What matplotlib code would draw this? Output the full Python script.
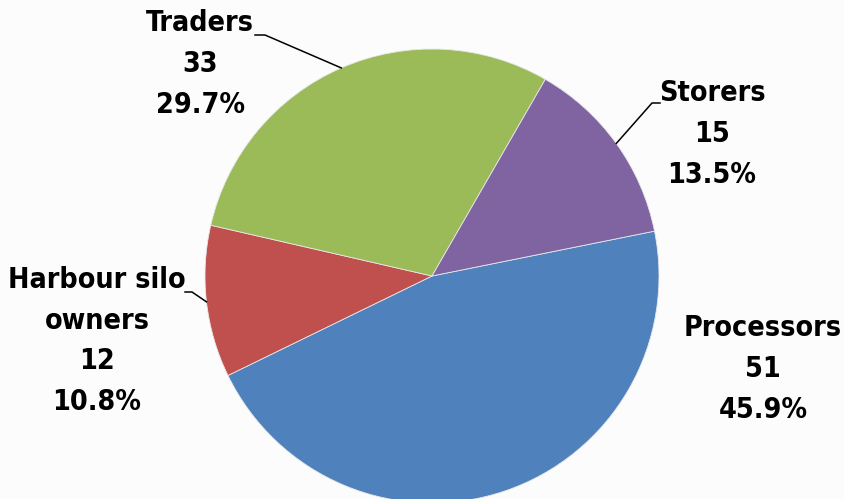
import numpy as np
import matplotlib.pyplot as plt
from matplotlib import font_manager
from matplotlib.font_manager import FontProperties

# processor survey: number of respondents by type
labels = ['Processors', 'Harbour silo\nowners', 'Traders', 'Storers']
counts = [51, 12, 33, 15]
colors = ['#4F81BD', '#C0504D', '#9BBB59', '#8064A2']

total = sum(counts)
pct = [100.0 * c / total for c in counts]

# look for a condensed bold face (chart used Arial Narrow bold)
fpath = None
for key in ['LiberationSansNarrow-Bold.', 'DejaVuSansCondensed-Bold.']:
    for f in font_manager.fontManager.ttflist:
        if key in f.fname.replace('\\', '/').split('/')[-1]:
            fpath = f.fname
            break
    if fpath:
        break

if fpath:
    fp = FontProperties(fname=fpath, size=20.5)
    lsp = 1.57
else:
    fp = FontProperties(family='Liberation Sans', weight='bold', size=21.5)
    lsp = 1.4

W, H = 844, 499
fig = plt.figure(figsize=(W / 100, H / 100), dpi=100, facecolor='#fcfcfc')
ax = fig.add_axes([0, 0, 1, 1])

cx, cy, r = 432, H - 276, 227
wedges, _ = ax.pie(counts, colors=colors, startangle=11.4, counterclock=False,
                   center=(cx, cy), radius=r, frame=True,
                   wedgeprops=dict(edgecolor='#e8e8e8', linewidth=0.6))
ax.set_xlim(0, W)
ax.set_ylim(0, H)
ax.set_aspect('equal')
ax.axis('off')

# label block centres (pixel coords, y from top) and leader line starts
text_pos = {0: (763, 369), 1: (97, 341), 2: (200, 64), 3: (712, 134)}
leader = {1: [(185, 292), (192, 292)], 2: [(255, 35), (265, 35)], 3: [(660, 103), (652, 103)]}

for i, w in enumerate(wedges):
    tx, ty = text_pos[i]
    txt = '%s\n%d\n%.1f%%' % (labels[i], counts[i], pct[i])
    ax.text(tx, H - ty, txt, ha='center', va='center', fontproperties=fp,
            linespacing=lsp, color='black')
    if i in leader:
        mid = np.deg2rad((w.theta1 + w.theta2) / 2)
        ex, ey = cx + r * np.cos(mid), cy + r * np.sin(mid)
        pts = [(x, H - y) for x, y in leader[i]] + [(ex, ey)]
        xs, ys = zip(*pts)
        ax.plot(xs, ys, color='black', lw=1.1)

fig.savefig('out.png', dpi=100, facecolor=fig.get_facecolor())
